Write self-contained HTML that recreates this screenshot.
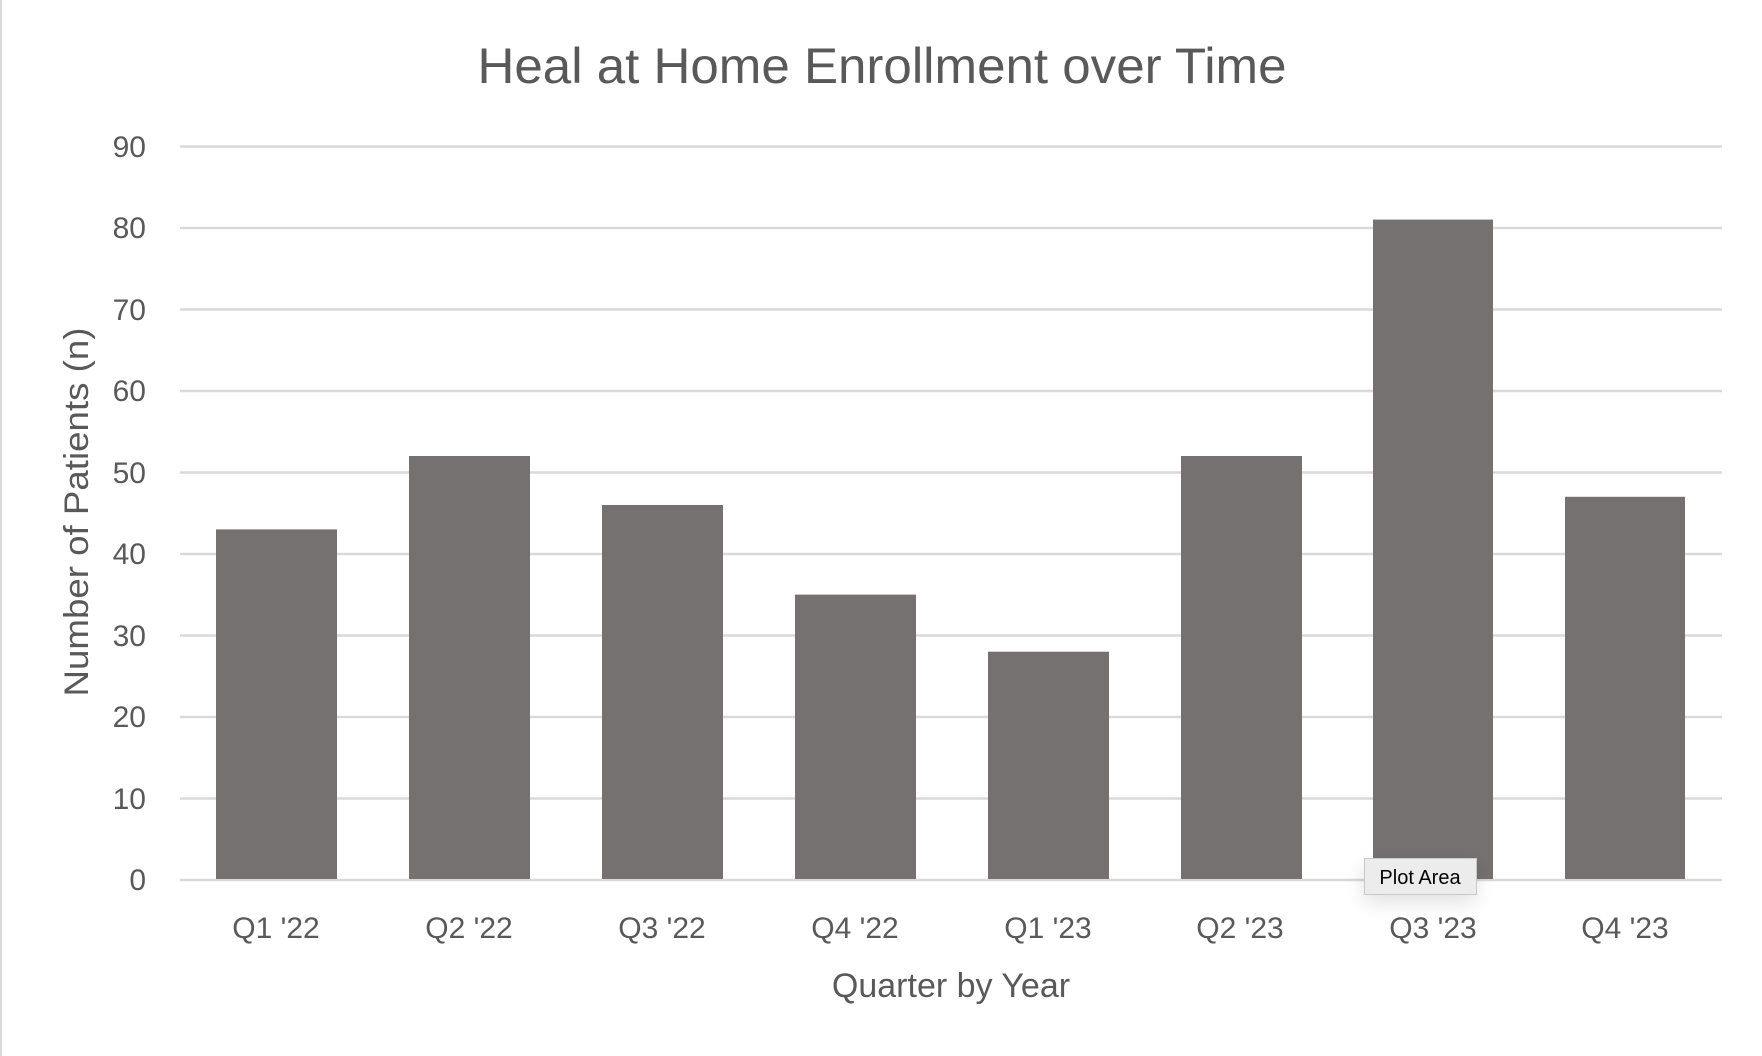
<!DOCTYPE html>
<html><head><meta charset="utf-8"><style>
html,body{margin:0;padding:0;background:#fff;}
svg{display:block;}
text{font-family:"Liberation Sans",sans-serif;fill:#595959;}
</style></head><body>
<svg width="1762" height="1056" viewBox="0 0 1762 1056" xmlns="http://www.w3.org/2000/svg">
<rect x="0" y="0" width="1762" height="1056" fill="#fff"/>
<line x1="1" y1="0" x2="1" y2="1056" stroke="#d9d9d9" stroke-width="2"/>
<text x="882" y="83" font-size="50" text-anchor="middle" textLength="809" lengthAdjust="spacingAndGlyphs">Heal at Home Enrollment over Time</text>
<g stroke="#d9d9d9" stroke-width="2.5">
<line x1="180" x2="1722" y1="146.5" y2="146.5"/>
<line x1="180" x2="1722" y1="228" y2="228"/>
<line x1="180" x2="1722" y1="309.5" y2="309.5"/>
<line x1="180" x2="1722" y1="391" y2="391"/>
<line x1="180" x2="1722" y1="472.5" y2="472.5"/>
<line x1="180" x2="1722" y1="554" y2="554"/>
<line x1="180" x2="1722" y1="635.5" y2="635.5"/>
<line x1="180" x2="1722" y1="717" y2="717"/>
<line x1="180" x2="1722" y1="798.5" y2="798.5"/>
<line x1="180" x2="1722" y1="880" y2="880"/>
</g>
<g font-size="30" text-anchor="end">
<text x="146" y="157">90</text>
<text x="146" y="238">80</text>
<text x="146" y="320">70</text>
<text x="146" y="401">60</text>
<text x="146" y="483">50</text>
<text x="146" y="564">40</text>
<text x="146" y="646">30</text>
<text x="146" y="727">20</text>
<text x="146" y="809">10</text>
<text x="146" y="890">0</text>
</g>
<g fill="#757170">
<rect x="216" y="529.4" width="121" height="349.6"/>
<rect x="409" y="456" width="121" height="423"/>
<rect x="602" y="505" width="121" height="374"/>
<rect x="795" y="594.6" width="121" height="284.4"/>
<rect x="988" y="651.7" width="121" height="227.3"/>
<rect x="1181" y="456" width="121" height="423"/>
<rect x="1373" y="219.6" width="120" height="659.4"/>
<rect x="1565" y="496.8" width="120" height="382.2"/>
</g>
<g font-size="30" text-anchor="middle">
<text x="276" y="938">Q1 '22</text>
<text x="469" y="938">Q2 '22</text>
<text x="662" y="938">Q3 '22</text>
<text x="855" y="938">Q4 '22</text>
<text x="1048" y="938">Q1 '23</text>
<text x="1240" y="938">Q2 '23</text>
<text x="1433" y="938">Q3 '23</text>
<text x="1625" y="938">Q4 '23</text>
</g>
<text x="951" y="997" font-size="34" text-anchor="middle">Quarter by Year</text>
<text transform="translate(88,512) rotate(-90)" font-size="34" text-anchor="middle" textLength="369" lengthAdjust="spacingAndGlyphs">Number of Patients (n)</text>
<defs><filter id="sh" x="-50%" y="-50%" width="200%" height="200%"><feGaussianBlur stdDeviation="10"/></filter></defs>
<rect x="1364" y="866" width="112" height="36" fill="#000" opacity="0.12" filter="url(#sh)"/>
<rect x="1364.5" y="858.5" width="112" height="36" fill="#ececec" stroke="#c8c8c8" stroke-width="1"/>
<text x="1420" y="884" font-size="20" text-anchor="middle" style="fill:#000">Plot Area</text>
</svg>
</body></html>
